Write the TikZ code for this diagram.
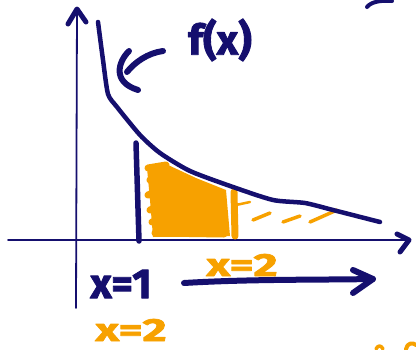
\documentclass[tikz,border=0pt]{standalone}
\usepackage{fontspec}
\setmainfont{Fira Sans}[BoldFeatures={FakeBold=2}]
\definecolor{navy}{HTML}{150F6E}
\definecolor{amber}{HTML}{F7A100}
\begin{document}
\begin{tikzpicture}[x=1pt,y=-1pt,line cap=round,line join=round,
  axisline/.style={navy,line width=1.8pt},
  marker/.style={navy,line width=5pt},
  hl/.style={amber,line width=7pt},
  hlthin/.style={amber,line width=3.5pt},
  navytext/.style={text=navy,font=\bfseries\fontsize{42}{42}\selectfont,inner sep=0pt},
  ambertext/.style={text=amber,font=\bfseries\fontsize{32}{32}\selectfont,inner sep=0pt,xscale=1.45,transform shape}]
\useasboundingbox (0,0) rectangle (416,349);
% axes
\coordinate (yb) at (76,308);
\coordinate (yt) at (77,9);
\coordinate (xl) at (8,240);
\coordinate (xr) at (409,240);
\draw[axisline] (yb) -- (yt);
\draw[marker] (68,24) -- (yt) -- (86,22);
\draw[axisline] (xl) -- (xr);
\draw[marker] (397,234) -- (xr) -- (400,252);
% shading
\fill[amber] (147,168) -- (166,164) -- (196,178) -- (226,190) -- (230,236) -- (153,237) -- (150,200) -- cycle;
\draw[hl] (148,168) -- (166,165) -- (150,180) -- (184,179) -- (148,195) -- (203,189) -- (150,210) -- (218,201) -- (152,222) -- (222,216) -- (155,233) -- (224,234);
\draw[hl] (234,192) -- (235,236);
\draw[amber,line width=2.5pt] (236,205) -- (250,202);
\draw[hlthin] (253,220) -- (270,213);
\draw[hlthin] (283,222) -- (300,216);
\draw[hlthin] (310,222) -- (337,210);
% curve
\draw[marker,line width=4.5pt] plot[smooth,tension=0.4] coordinates {(98,22) (103,60) (108,94) (117,107) (140,135) (160,153) (190,171) (233,187) (273,200) (305,203) (333,210) (380,222)};
% vertical line at x=1
\coordinate (vb) at (139,241);
\coordinate (vt) at (136,143);
\draw[marker,line width=5.5pt] (vb) -- (vt);
% pointer arrow to the curve
\draw[marker,line width=6pt] (163,51) .. controls (148,53) and (135,62) .. (127,72);
\draw[marker,line width=6pt] (129,51) .. controls (118,62) and (112,82) .. (138,90);
% labels
\node[navytext] (fx) at (220,40) {f(x)};
\node[navytext] (x1) at (121,284) {x=1};
\node[ambertext] (x2a) at (131,330) {x=2};
\node[ambertext] (x2b) at (242,265) {x=2};
% lower arrow
\coordinate (as) at (184,283);
\coordinate (ae) at (373,279);
\draw[marker,line width=6pt] (as) .. controls (250,279) and (320,280) .. (ae);
\draw[marker,line width=6pt] (353,270) -- (ae) -- (353,293);
% cut-off fragments at the edges
\draw[navy,line width=4pt] (367,7) .. controls (371,2) and (380,0) .. (392,1);
\draw[amber,line width=3.5pt] (376,349) .. controls (378,345) and (381,345) .. (383,349);
\draw[amber,line width=4pt] (406,349) .. controls (407,343) and (413,342) .. (416,345);
\end{tikzpicture}
\end{document}
